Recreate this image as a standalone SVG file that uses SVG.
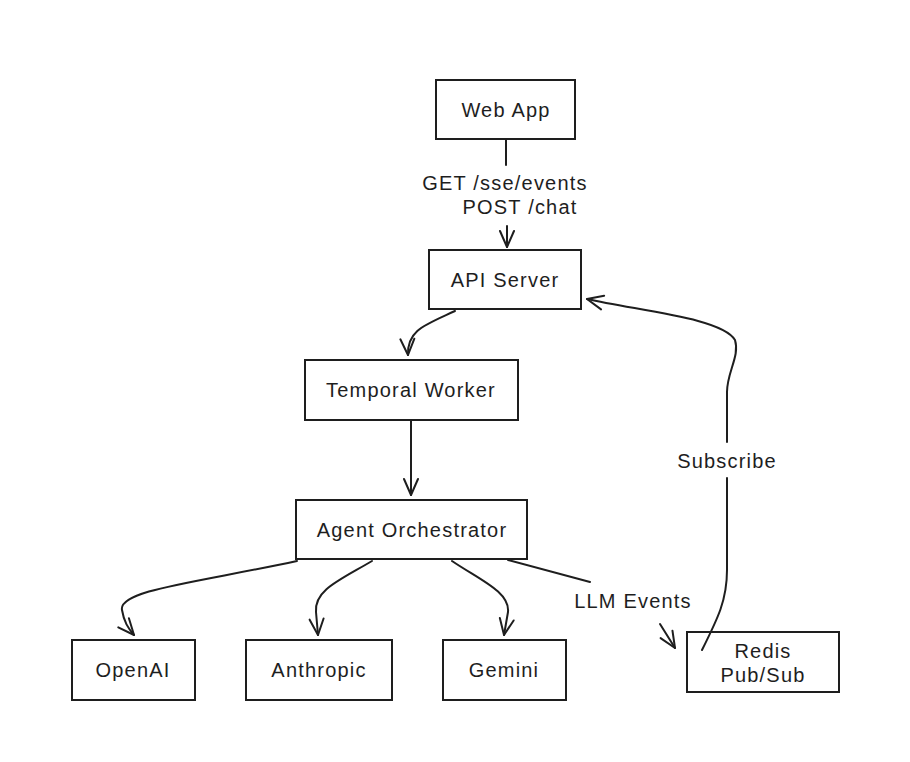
<svg xmlns="http://www.w3.org/2000/svg" width="910" height="762" viewBox="0 0 910 762">
  <defs>
    <style>
      .box { fill: #ffffff; stroke: #1e1e1e; stroke-width: 2; }
      .lbl { font-family: "Liberation Sans", "DejaVu Sans", sans-serif; font-size: 20px; letter-spacing: 1.2px; fill: #1e1e1e; text-anchor: middle; dominant-baseline: central; }
      .edge { fill: none; stroke: #1e1e1e; stroke-width: 2; stroke-linecap: round; stroke-linejoin: round; }
      .arr { marker-end: url(#head); }
    </style>
    <marker id="head" viewBox="0 0 20 20" refX="18" refY="10" markerWidth="20" markerHeight="20" markerUnits="userSpaceOnUse" orient="auto">
      <path d="M2,3 L18,10 L2,17" fill="none" stroke="#1e1e1e" stroke-width="2" stroke-linecap="round" stroke-linejoin="round"/>
    </marker>
  </defs>
  <rect width="910" height="762" fill="#ffffff"/>

  <g id="web-app">
    <rect class="box" x="436" y="80" width="139" height="59"/>
    <text class="lbl" x="506" y="110">Web App</text>
  </g>
  <g id="api-server">
    <rect class="box" x="429" y="250" width="152" height="59"/>
    <text class="lbl" x="505" y="280">API Server</text>
  </g>
  <g id="temporal-worker">
    <rect class="box" x="305" y="360" width="213" height="60"/>
    <text class="lbl" x="411" y="390">Temporal Worker</text>
  </g>
  <g id="agent-orchestrator">
    <rect class="box" x="296" y="500" width="231" height="59"/>
    <text class="lbl" x="412" y="530">Agent Orchestrator</text>
  </g>
  <g id="openai">
    <rect class="box" x="72" y="640" width="123" height="60"/>
    <text class="lbl" x="133" y="670">OpenAI</text>
  </g>
  <g id="anthropic">
    <rect class="box" x="246" y="640" width="146" height="60"/>
    <text class="lbl" x="319" y="670">Anthropic</text>
  </g>
  <g id="gemini">
    <rect class="box" x="443" y="640" width="123" height="60"/>
    <text class="lbl" x="504" y="670">Gemini</text>
  </g>
  <g id="redis">
    <rect class="box" x="687" y="632" width="152" height="60"/>
    <text class="lbl" x="763" y="651">Redis</text>
    <text class="lbl" x="763" y="675">Pub/Sub</text>
  </g>

  <g id="connectors">
    <path class="edge" d="M506,140 L506,165"/>
    <path class="edge arr" d="M507,226 L507,247"/>
    <path class="edge arr" d="M455,311 C 425,325 407,330 408,355"/>
    <path class="edge arr" d="M411,421 L411,495"/>
    <path class="edge arr" d="M297,561 C 200,582 118,590 122,610 C 124,622 128,628 134,635"/>
    <path class="edge arr" d="M372,561 C 340,580 314,590 316,612 L318,635"/>
    <path class="edge arr" d="M452,561 C 480,580 510,592 508,612 L504,635"/>
    <path class="edge" d="M508,560 L590,582"/>
    <path class="edge arr" d="M660,624 L675,648"/>
    <path class="edge" d="M702,650 C 718,618 727,600 727,570 L727,478"/>
    <path class="edge arr" d="M727,442 L727,392 C 727,372 740,356 735,340 C 722,318 640,311 587,299"/>
  </g>

  <g id="edge-labels">
    <text class="lbl" x="505" y="183">GET /sse/events</text>
    <text class="lbl" x="520" y="207">POST /chat</text>
    <text class="lbl" x="633" y="601">LLM Events</text>
    <text class="lbl" x="727" y="461">Subscribe</text>
  </g>
</svg>
